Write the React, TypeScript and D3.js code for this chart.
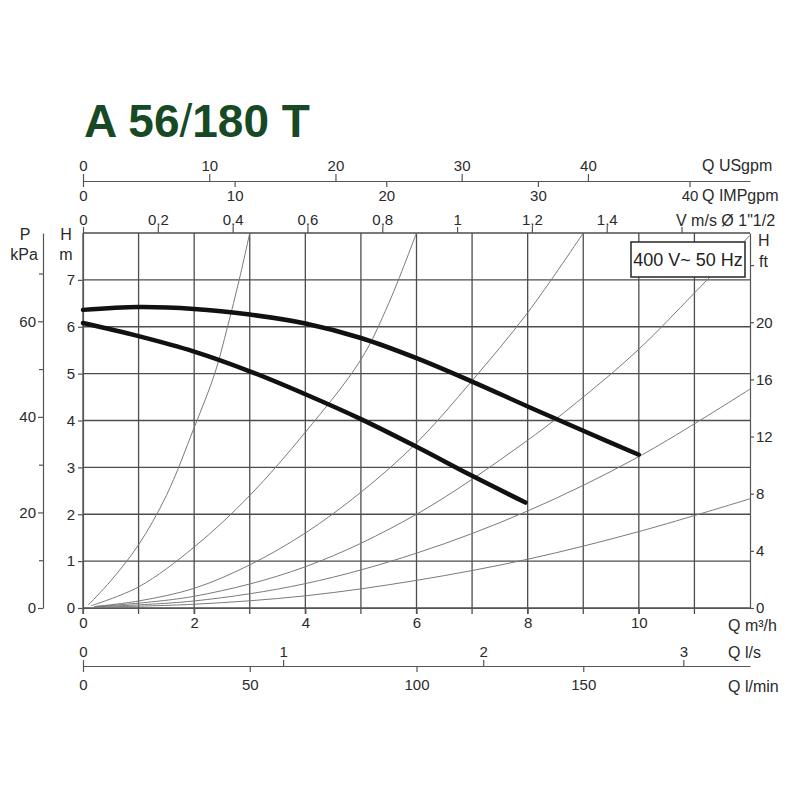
import { useEffect, useRef } from "react";
import * as d3 from "d3";

const title = "A 56/180 T";
const ratingLabel = "400 V~ 50 Hz";

// pump curves (Q m3/h, H m)
const upperQ = [0, 1, 2, 3, 4, 5, 6, 7, 8, 9, 10];
const upperH = [6.36, 6.42, 6.38, 6.26, 6.07, 5.76, 5.33, 4.83, 4.3, 3.78, 3.27];
const lowerQ = [0, 1, 2, 3, 4, 5, 6, 7, 7.96];
const lowerH = [6.08, 5.8, 5.47, 5.05, 4.56, 4.03, 3.44, 2.82, 2.25];

// system (pipe) curves
const sysAQ = [0.1, 0.5, 1.0, 1.5, 2.0, 2.37, 2.6, 2.81, 3.0];
const sysAH = [0.07, 0.58, 1.35, 2.4, 3.85, 5.0, 6.0, 7.0, 8.0];
const sysBQ = [0.15, 1, 2, 3, 4, 5, 5.5, 6];
const sysBH = [0.05, 0.45, 1.3, 2.4, 3.75, 5.3, 6.5, 8.0];
const sysCQ = [0.2, 1, 2, 3, 4, 5, 6, 7, 8, 9];
const sysCH = [0.03, 0.15, 0.42, 0.92, 1.6, 2.47, 3.52, 4.85, 6.3, 8.0];
const sysDQ = [0.2, 2, 4, 6, 8, 9, 10, 11, 12];
const sysDH = [0.03, 0.25, 0.88, 2.0, 3.58, 4.5, 5.52, 6.72, 7.95];
const sysEQ = [0.25, 2, 4, 6, 8, 10, 12];
const sysEH = [0.03, 0.15, 0.52, 1.17, 2.07, 3.23, 4.67];
const sysFQ = [0.25, 2, 4, 6, 8, 10, 12];
const sysFH = [0.02, 0.08, 0.26, 0.59, 1.04, 1.63, 2.33];

// tick values
const m3hTicks = [0, 2, 4, 6, 8, 10];
const hmTicks = [0, 1, 2, 3, 4, 5, 6, 7];
const kpaTicks = [0, 20, 40, 60];
const kpaMinorTicks = [10, 30, 50, 70];
const ftTicks = [0, 4, 8, 12, 16, 20, 24];
const usgpmTicks = [0, 10, 20, 30, 40];
const impgpmTicks = [0, 10, 20, 30, 40];
const velTicks = [0, 0.2, 0.4, 0.6, 0.8, 1, 1.2, 1.4, 1.6];
const lsTicks = [0, 1, 2, 3];
const lminTicks = [0, 50, 100, 150];

// unit conversions
const M3H_PER_USGPM = 0.2271;
const M3H_PER_IMPGPM = 0.2728;
const M3H_PER_MS = 6.73; // 1"1/2 pipe
const M3H_PER_LS = 3.6;
const M3H_PER_LMIN = 0.06;
const KPA_PER_M = 9.81;
const FT_PER_M = 3.2808;

const FONT = "'Liberation Sans', Arial, Helvetica, sans-serif";
const AX = "#555";
const TXT = "#2a2a2a";

export default function App() {
  const svgRef = useRef<SVGSVGElement>(null);

  useEffect(() => {
    if (!svgRef.current) return;
    const svg = d3.select(svgRef.current);
    svg.selectAll("*").remove();
    svg.attr("font-family", FONT);

    const x = d3.scaleLinear().domain([0, 12]).range([83, 750]);
    const y = d3.scaleLinear().domain([0, 8]).range([608, 233]);
    const [x0, x1] = x.range();
    const [yb, yt] = y.range();

    const qScale = (k: number) =>
      d3.scaleLinear().domain([0, 12 / k]).range(x.range());
    const hScale = (k: number) =>
      d3.scaleLinear().domain([0, 8 * k]).range(y.range());
    const plain = (d: any) => String(d);

    const style = (g: any, noDomain = false) => {
      g.attr("font-family", FONT).attr("font-size", 15);
      g.selectAll("line").attr("stroke", AX).attr("stroke-width", 1.2);
      g.selectAll("path.domain").attr("stroke", AX).attr("stroke-width", 1.2);
      g.selectAll("text").attr("fill", TXT);
      if (noDomain) g.select("path.domain").remove();
    };

    const label = (tx: number, ty: number, s: string, size = 16, anchor = "start") =>
      svg
        .append("text")
        .attr("x", tx)
        .attr("y", ty)
        .attr("font-size", size)
        .attr("fill", TXT)
        .attr("text-anchor", anchor)
        .attr("dominant-baseline", "central")
        .text(s);

    // Title
    const t = svg
      .append("text")
      .attr("x", 84)
      .attr("y", 137)
      .attr("font-size", 46)
      .attr("font-weight", "bold")
      .attr("fill", "#174a24");
    t.append("tspan").text(title.slice(0, 4));
    t.append("tspan").attr("font-weight", "normal").text(title.slice(4, 5));
    t.append("tspan").text(title.slice(5));

    // Grid
    const grid = svg.append("g").attr("stroke", "#4d4d4d").attr("stroke-width", 1.3);
    grid
      .selectAll("line.v")
      .data(x.ticks(12).filter((d) => d < 12))
      .join("line")
      .attr("x1", (d) => x(d))
      .attr("x2", (d) => x(d))
      .attr("y1", yt)
      .attr("y2", yb + 6);
    grid
      .selectAll("line.h")
      .data(y.ticks(8))
      .join("line")
      .attr("x1", x0)
      .attr("x2", x1)
      .attr("y1", (d) => y(d))
      .attr("y2", (d) => y(d));

    // Bottom m3/h
    svg
      .append("g")
      .attr("transform", `translate(0,${yb})`)
      .call(d3.axisBottom(x).tickValues(m3hTicks).tickSize(6).tickPadding(3).tickSizeOuter(0).tickFormat(plain))
      .call((g: any) => style(g));
    label(728, 625, "Q m³/h");

    // Left H m
    svg
      .append("g")
      .attr("transform", `translate(${x0},0)`)
      .call(d3.axisLeft(y).tickValues(hmTicks).tickSize(5).tickPadding(3).tickSizeOuter(0).tickFormat(plain))
      .call((g: any) => style(g));
    label(66, 234, "H", 16, "middle");
    label(66, 254, "m", 16, "middle");

    // Left P kPa
    const yP = hScale(KPA_PER_M);
    svg
      .append("g")
      .attr("transform", "translate(43,0)")
      .call(d3.axisLeft(yP).tickValues(kpaTicks).tickSize(5).tickPadding(2).tickSizeOuter(0).tickFormat(plain))
      .call((g: any) => style(g));
    svg
      .append("g")
      .attr("transform", "translate(43,0)")
      .call(d3.axisLeft(yP).tickValues(kpaMinorTicks).tickSize(4).tickFormat(() => ""))
      .call((g: any) => style(g, true));
    label(25, 234, "P", 16, "middle");
    label(24, 254, "kPa", 16, "middle");

    // Right H ft
    const yF = hScale(FT_PER_M);
    svg
      .append("g")
      .attr("transform", `translate(${x1},0)`)
      .call(
        d3
          .axisRight(yF)
          .tickValues(ftTicks)
          .tickSize(4)
          .tickPadding(2)
          .tickSizeOuter(0)
          .tickFormat((d: any) => (d === 24 ? "" : String(d)))
      )
      .call((g: any) => style(g));
    label(758, 240, "H", 16);
    label(759, 261, "ft", 16);

    // Top: USgpm / IMPgpm
    svg
      .append("g")
      .attr("transform", "translate(0,181)")
      .call(d3.axisTop(qScale(M3H_PER_USGPM)).tickValues(usgpmTicks).tickSize(7).tickPadding(3).tickSizeOuter(0).tickFormat(plain))
      .call((g: any) => style(g));
    svg
      .append("g")
      .attr("transform", "translate(0,181)")
      .call(d3.axisBottom(qScale(M3H_PER_IMPGPM)).tickValues(impgpmTicks).tickSize(6).tickPadding(3).tickFormat(plain))
      .call((g: any) => style(g, true));
    label(702, 165, "Q USgpm");
    label(702, 195, "Q IMPgpm");

    // Top: velocity
    svg
      .append("g")
      .attr("transform", `translate(0,${yt})`)
      .call(
        d3
          .axisTop(qScale(M3H_PER_MS))
          .tickValues(velTicks)
          .tickSize(6)
          .tickPadding(2)
          .tickFormat((d: any) => (d === 1.6 ? "" : String(d).replace(".", ",")))
      )
      .call((g: any) => style(g, true));
    label(676, 220, "V m/s Ø 1\"1/2");

    // Bottom: l/s and l/min
    svg
      .append("g")
      .attr("transform", "translate(0,666)")
      .call(d3.axisTop(qScale(M3H_PER_LS)).tickValues(lsTicks).tickSize(6).tickPadding(3).tickSizeOuter(0).tickFormat(plain))
      .call((g: any) => style(g));
    svg
      .append("g")
      .attr("transform", "translate(0,666)")
      .call(d3.axisBottom(qScale(M3H_PER_LMIN)).tickValues(lminTicks).tickSize(6).tickPadding(7).tickFormat(plain))
      .call((g: any) => style(g, true));
    label(728, 652, "Q l/s");
    label(728, 686, "Q l/min");

    // System curves
    const line = d3
      .line<[number, number]>()
      .x((d) => x(d[0]))
      .y((d) => y(d[1]))
      .curve(d3.curveCatmullRom.alpha(0.5));
    const systems: [number[], number[]][] = [
      [sysAQ, sysAH],
      [sysBQ, sysBH],
      [sysCQ, sysCH],
      [sysDQ, sysDH],
      [sysEQ, sysEH],
      [sysFQ, sysFH],
    ];
    svg
      .append("g")
      .selectAll("path")
      .data(systems.map(([q, h]) => d3.zip(q, h) as [number, number][]))
      .join("path")
      .attr("d", (d) => line(d))
      .attr("fill", "none")
      .attr("stroke", "#7a7a7a")
      .attr("stroke-width", 1);

    // Pump curves
    svg
      .append("g")
      .selectAll("path")
      .data([
        d3.zip(upperQ, upperH) as [number, number][],
        d3.zip(lowerQ, lowerH) as [number, number][],
      ])
      .join("path")
      .attr("d", (d) => line(d))
      .attr("fill", "none")
      .attr("stroke", "#111")
      .attr("stroke-width", 4.5)
      .attr("stroke-linecap", "round")
      .attr("stroke-linejoin", "round");

    // Rating box
    svg
      .append("rect")
      .attr("x", 631)
      .attr("y", 242)
      .attr("width", 114)
      .attr("height", 35)
      .attr("fill", "#fff")
      .attr("stroke", "#333")
      .attr("stroke-width", 1.6);
    svg
      .append("text")
      .attr("x", 688)
      .attr("y", 260)
      .attr("font-size", 18)
      .attr("fill", "#222")
      .attr("text-anchor", "middle")
      .attr("dominant-baseline", "central")
      .text(ratingLabel);

    return () => {
      svg.selectAll("*").remove();
    };
  }, []);

  return (
    <svg
      ref={svgRef}
      width={800}
      height={800}
      style={{ position: "absolute", left: 0, top: 0, background: "#fff" }}
    />
  );
}
